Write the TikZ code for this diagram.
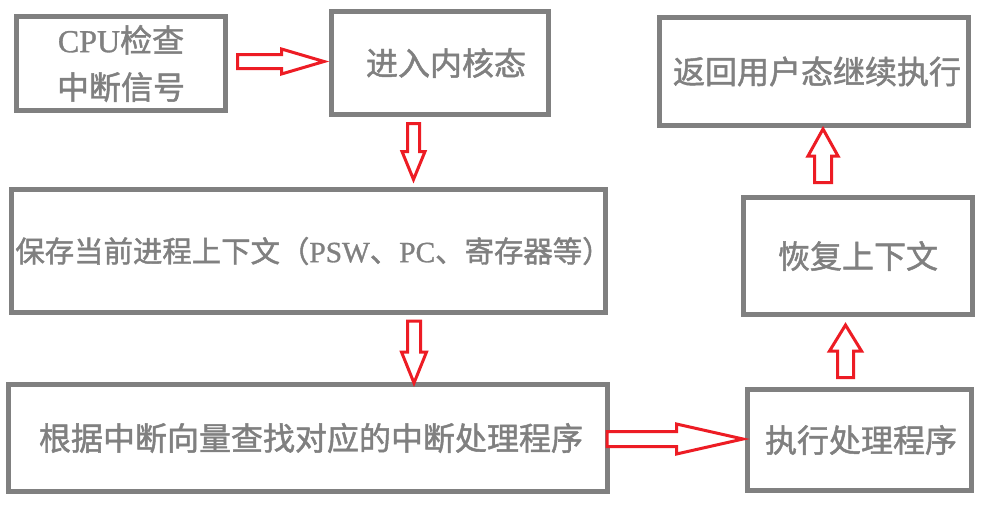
\documentclass[tikz,border=0pt]{standalone}
\usepackage{fontspec}
\setmainfont{Liberation Serif}
\newfontfamily\cjk[FakeBold=1.5]{Noto Sans CJK SC}
\newfontfamily\lat[FakeBold=1]{Liberation Serif}
\usetikzlibrary{calc}
\definecolor{boxgray}{RGB}{128,128,128}
\definecolor{arrred}{RGB}{237,28,36}
\tikzset{
  box/.style={draw=boxgray, line width=5pt, inner sep=0pt, outer sep=2.5pt, align=center,
    text=boxgray, font=\cjk\fontsize{32}{47}\selectfont},
  blk/.style={draw=arrred, fill=white, line width=3pt, line join=miter}
}
\newcommand\arrR[5]{\draw[blk] ($(#1)+(0,-#3)$) -- ($(#2)+(-#5,-#3)$) -- ($(#2)+(-#5,-#4)$) -- (#2) -- ($(#2)+(-#5,#4)$) -- ($(#2)+(-#5,#3)$) -- ($(#1)+(0,#3)$) -- cycle;}
\newcommand\arrD[5]{\draw[blk] ($(#1)+(-#3,0)$) -- ($(#2)+(-#3,-#5)$) -- ($(#2)+(-#4,-#5)$) -- (#2) -- ($(#2)+(#4,-#5)$) -- ($(#2)+(#3,-#5)$) -- ($(#1)+(#3,0)$) -- cycle;}
\newcommand\arrU[5]{\draw[blk] ($(#1)+(-#3,0)$) -- ($(#2)+(-#3,#5)$) -- ($(#2)+(-#4,#5)$) -- (#2) -- ($(#2)+(#4,#5)$) -- ($(#2)+(#3,#5)$) -- ($(#1)+(#3,0)$) -- cycle;}
\begin{document}
\begin{tikzpicture}[x=1pt,y=-1pt]
\useasboundingbox (0,0) rectangle (981,507);
\fill[white] (0,0) rectangle (981,507);
% boxes
\node[box, minimum width=209pt, minimum height=94pt] (b1) at (121,63.5)
  {{\lat CPU}检查\\中断信号};
\node[box, minimum width=217pt, minimum height=103pt] (b2) at (440,63)
  {\hspace*{12pt}进入内核态};
\node[box, minimum width=309pt, minimum height=108pt] (b3) at (814,71.5)
  {\hspace*{6pt}返回用户态继续执行};
\node[box, minimum width=594pt, minimum height=123pt, font=\cjk\fontsize{29.4}{35}\selectfont] (b4) at (308.5,251)
  {\makebox[0pt][c]{\hspace*{10pt}保存当前进程上下文（{\lat PSW}、{\lat PC}、寄存器等）}};
\node[box, minimum width=229pt, minimum height=117pt] (b5) at (858,256)
  {恢复上下文};
\node[box, minimum width=599pt, minimum height=107pt] (b6) at (308,438)
  {\hspace*{6pt}根据中断向量查找对应的中断处理程序};
\node[box, minimum width=224pt, minimum height=101pt] (b7) at (859.5,440)
  {\hspace*{3pt}执行处理程序};
% arrow end points
\coordinate (aAs) at ($(b1.east)+(9.5,-2)$);
\coordinate (aAe) at ($(aAs -| b2.west)+(-5,0)$);
\coordinate (aBs) at ($(b2.south)+(-26.5,6.5)$);
\coordinate (aBe) at ($(aBs |- b4.north)+(0,-7.5)$);
\coordinate (aCs) at ($(b4.south)+(105.5,6)$);
\coordinate (aCe) at ($(aCs |- b6.north)+(0,1)$);
\coordinate (aDs) at ($(b6.east)+(-3,1)$);
\coordinate (aDe) at ($(aDs -| b7.west)+(-2,0)$);
\coordinate (aEs) at ($(b7.north)+(-14,-9.5)$);
\coordinate (aEe) at ($(aEs |- b5.south)+(0,8)$);
\coordinate (aFs) at ($(b5.north)+(-35,-12.5)$);
\coordinate (aFe) at ($(aFs |- b3.south)+(0,1)$);
% arrows
\arrR{aAs}{aAe}{7}{12.5}{42.5}
\arrD{aBs}{aBe}{6}{11.5}{28}
\arrD{aCs}{aCe}{6.5}{12.5}{31}
\arrR{aDs}{aDe}{7.5}{15}{66.5}
\arrU{aEs}{aEe}{8}{16}{26}
\arrU{aFs}{aFe}{8.5}{15}{27}
\end{tikzpicture}
\end{document}
